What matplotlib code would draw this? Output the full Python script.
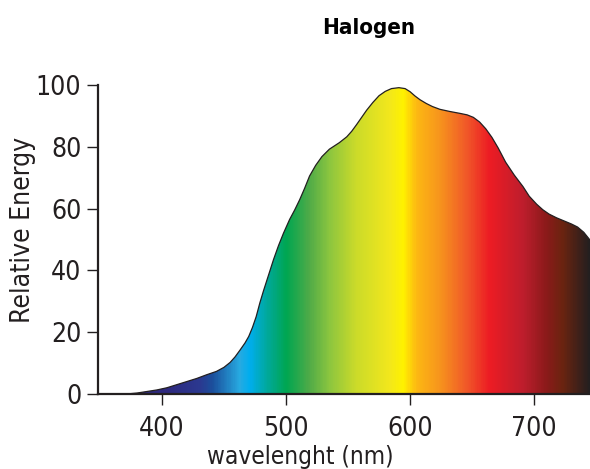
import numpy as np
import matplotlib.pyplot as plt
from matplotlib.colors import LinearSegmentedColormap

# spectral power distribution of a halogen lamp
wavelength = [372, 380, 388, 396, 404, 412, 420, 428, 436, 444, 450, 455, 459, 463,
              467, 470, 473, 476, 479, 482, 486, 490, 494, 498, 503, 507, 511, 515,
              519, 524, 529, 535, 543, 549, 553, 557, 561, 565, 570, 575, 580, 585,
              591, 596, 600, 604, 608, 613, 618, 624, 632, 640, 646, 651, 656, 661,
              666, 671, 677, 684, 691, 696, 702, 707, 712, 718, 724, 730, 735, 740, 745]
energy = [0.0, 0.3, 0.8, 1.3, 2.0, 3.0, 4.0, 5.0, 6.2, 7.3, 8.6, 10.2, 12.0, 14.2,
          16.5, 18.6, 21.5, 25.0, 29.5, 33.5, 38.5, 43.5, 48.0, 52.0, 56.5, 59.5, 62.8, 66.5,
          70.5, 74.0, 76.8, 79.2, 81.3, 83.2, 85.0, 87.2, 89.5, 91.8, 94.3, 96.5, 97.9, 98.8,
          99.1, 98.8, 97.8, 96.4, 95.2, 94.0, 93.0, 92.1, 91.4, 90.8, 90.3, 89.5, 88.0, 85.8,
          83.0, 79.6, 75.0, 70.8, 67.1, 64.0, 61.4, 59.6, 58.2, 57.0, 56.0, 55.0, 54.0, 52.3,
          49.8]

xticks = [400, 500, 600, 700]
yticks = [0, 20, 40, 60, 80, 100]

# colour of the spectrum at each wavelength
stops = [(348, "#2e2878"), (405, "#2e2a80"), (430, "#2b3990"), (440, "#1b4f9c"),
         (462, "#27aae1"), (470, "#00aeef"), (484, "#00a99d"), (500, "#00a651"),
         (518, "#4fab48"), (535, "#8dc63f"), (556, "#cbdb2a"), (583, "#f2e71d"),
         (594, "#fff200"), (605, "#fdb913"), (624, "#f7941d"), (645, "#f15a29"),
         (664, "#ed1c24"), (691, "#be1e2d"), (710, "#8b1a1a"), (723, "#6b2410"),
         (745, "#231f20")]

xmin, xmax = 348.5, 745
dark = "#231f20"
font = "DejaVu Sans"

cmap = LinearSegmentedColormap.from_list(
    "spectrum", [((w - xmin) / (xmax - xmin) if w > xmin else 0, c) for w, c in stops])

fig = plt.figure(figsize=(5.9, 4.69), dpi=100)
ax = fig.add_axes([0.166, 0.160, 0.834, 0.659])

fill = ax.fill_between(wavelength, energy, 0, color="none", lw=0)
grad = np.linspace(0, 1, 600).reshape(1, -1)
img = ax.imshow(grad, cmap=cmap, extent=(xmin, xmax, 0, 100), aspect="auto",
                origin="lower", interpolation="bilinear")
img.set_clip_path(fill.get_paths()[0], transform=ax.transData)
ax.plot(wavelength, energy, color=dark, lw=0.9)

ax.set_xlim(xmin, xmax)
ax.set_ylim(0, 100)
ax.set_xticks(xticks)
ax.set_yticks(yticks)
for s in ["top", "right"]:
    ax.spines[s].set_visible(False)
for s in ["left", "bottom"]:
    ax.spines[s].set_color(dark)
    ax.spines[s].set_linewidth(1.6)
ax.spines["left"].set_bounds(0, 100)
ax.tick_params(direction="out", length=8, width=1.0, color=dark, labelcolor=dark,
               labelsize=19)
ax.tick_params(axis="x", pad=8)
ax.tick_params(axis="y", pad=4)
for lab in ax.get_xticklabels() + ax.get_yticklabels():
    lab.set_family(font)
    lab.set_stretch("condensed")

fig.text(23 / 590, 1 - 230 / 469, "Relative Energy", fontsize=19, color=dark,
         family=font, stretch="condensed", rotation=90, ha="center", va="center")
fig.text(300 / 590, 1 - 457 / 469, "wavelenght (nm)", fontsize=17.5, color=dark,
         family=font, stretch="condensed", ha="center", va="center")
fig.text(369 / 590, 1 - 28 / 469, "Halogen", fontsize=16, fontweight="bold",
         color="black", family=font, stretch="condensed", ha="center", va="center")

fig.savefig("out.png", dpi=100)
